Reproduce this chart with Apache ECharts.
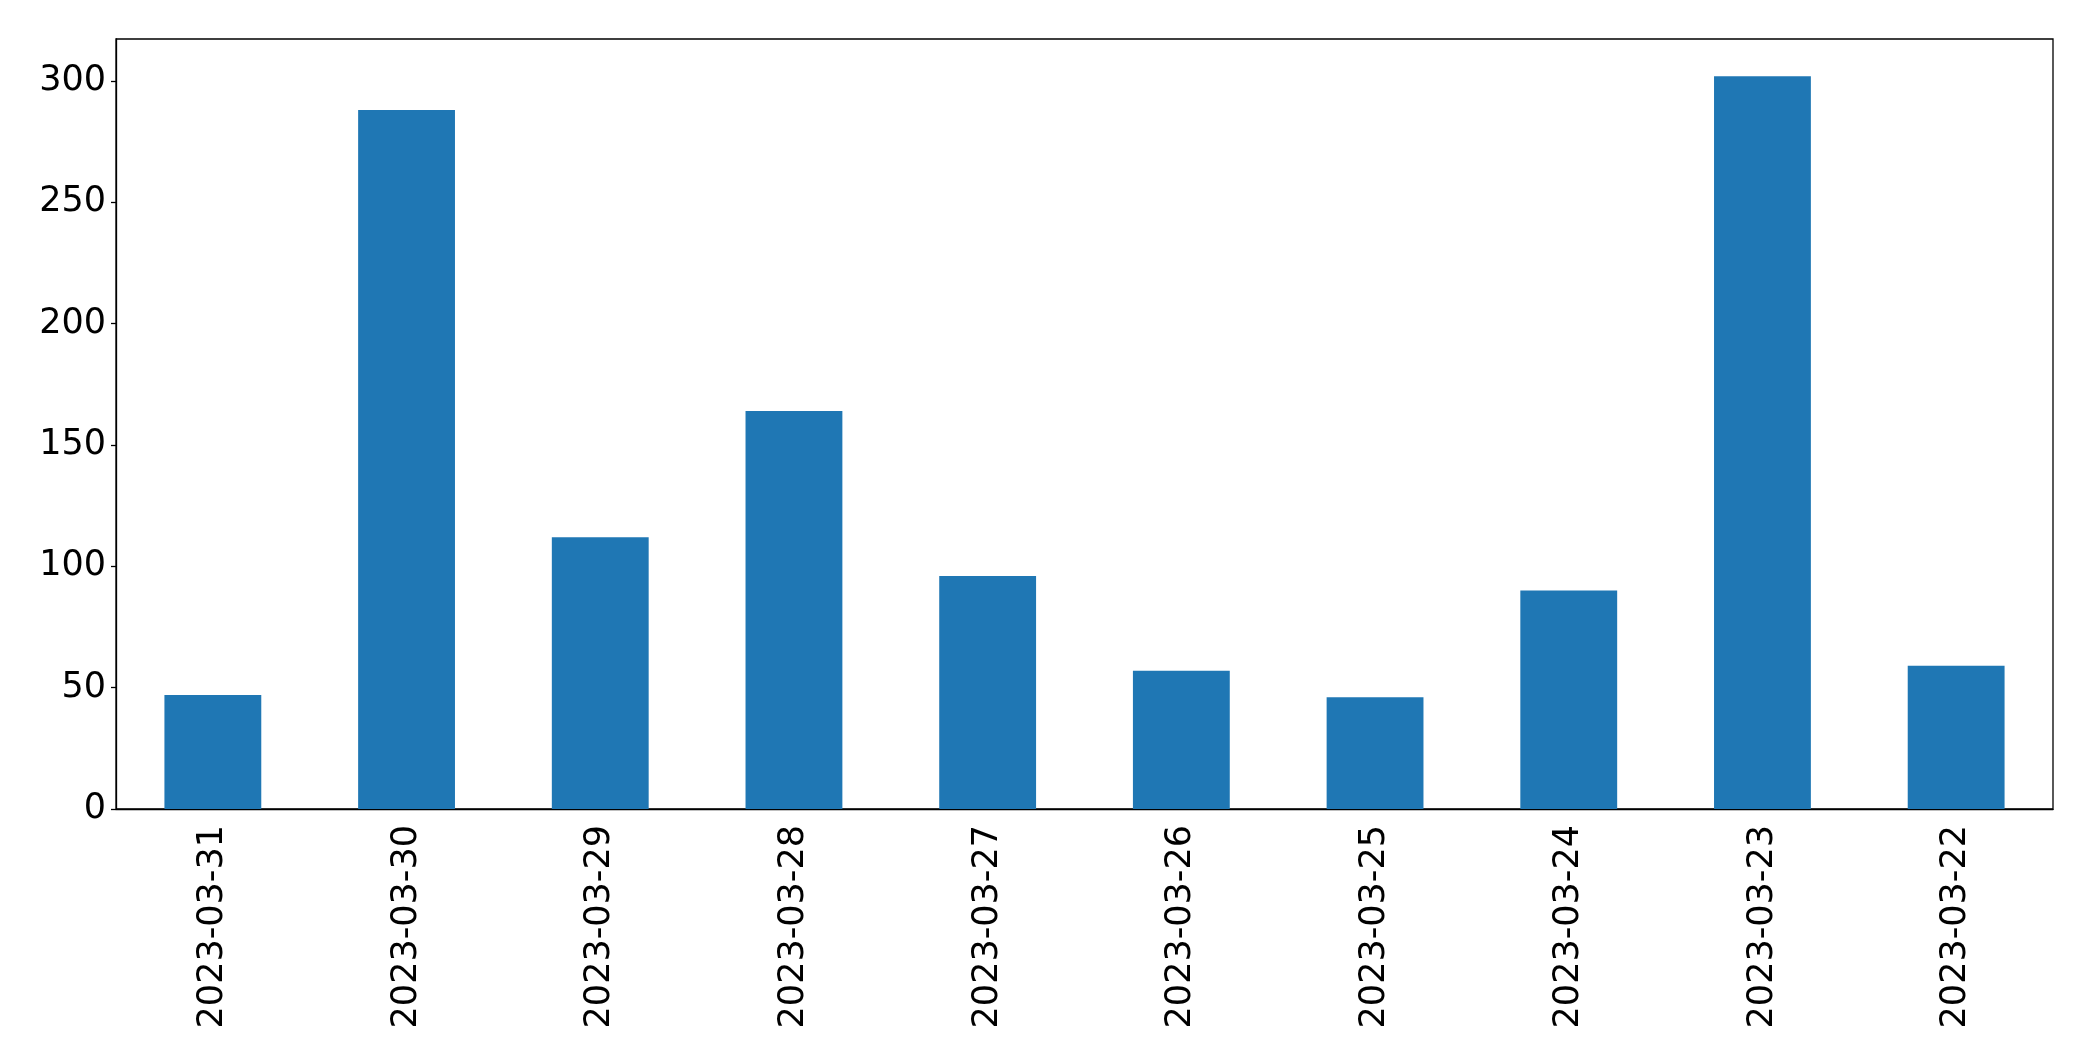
<!DOCTYPE html>
<html>
<head>
<meta charset="utf-8">
<script src="https://cdn.jsdelivr.net/npm/echarts@6/dist/echarts.min.js"></script>
<style>
  html, body { margin: 0; padding: 0; background: #fff; }
  #chart { width: 2093px; height: 1061px; }
</style>
</head>
<body>
<div id="chart"></div>
<script>
// dates, read left to right
const dates = ['2023-03-31', '2023-03-30', '2023-03-29', '2023-03-28', '2023-03-27',
  '2023-03-26', '2023-03-25', '2023-03-24', '2023-03-23', '2023-03-22']
const counts = [47, 288, 112, 164, 96, 57, 46, 90, 302, 59]
const yMax = 317.3

const mychart = echarts.init(document.getElementById('chart'))

const font = 'DejaVu Sans'
const option = {
  animation: false,
  grid: {
    left: 116, right: 40, top: 39, bottom: 252,
    show: true, borderColor: '#000', borderWidth: 1.3
  },
  xAxis: {
    type: 'category',
    data: dates,
    axisLine: { lineStyle: { color: '#000', width: 1.3 } },
    axisTick: { alignWithLabel: true, length: 5, lineStyle: { color: '#000', width: 1.3 } },
    axisLabel: { rotate: 90, margin: 16, color: '#000', fontSize: 35, fontFamily: font }
  },
  yAxis: {
    type: 'value',
    min: 0,
    max: yMax,
    interval: 50,
    splitLine: { show: false },
    axisLine: { show: true, lineStyle: { color: '#000', width: 1.3 } },
    axisTick: { show: true, length: 5, lineStyle: { color: '#000', width: 1.3 } },
    axisLabel: {
      margin: 10, color: '#000', fontSize: 35, fontFamily: font,
      showMaxLabel: false,
      formatter: v => (v % 50 === 0 ? v : '')
    }
  },
  series: [
    {
      type: 'bar',
      data: counts,
      barWidth: '50%',
      itemStyle: { color: '#1f77b4' }
    }
  ]
}
mychart.setOption(option)
</script>
</body>
</html>
